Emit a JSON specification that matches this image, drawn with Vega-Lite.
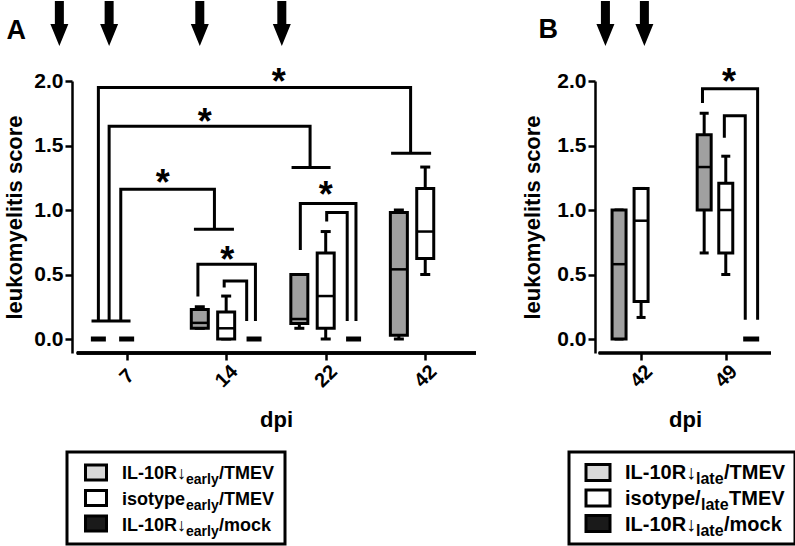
{
  "$schema": "https://vega.github.io/schema/vega-lite/v6.json",
  "padding": {"left": 3, "top": 0, "right": 0, "bottom": 0},
  "background": "white",
  "config": {
    "view": {"stroke": null},
    "font": "Liberation Sans",
    "axis": {"domainColor": "black", "tickColor": "black", "labelColor": "black", "titleColor": "black", "labelFont": "Liberation Sans", "titleFont": "Liberation Sans", "labelFontWeight": "bold", "titleFontWeight": "bold", "grid": false, "domainWidth": 2.5, "tickWidth": 2.5, "tickSize": 7},
    "text": {"font": "Liberation Sans", "fontWeight": "bold", "color": "black"}
  },
  "datasets": {
    "boxesA": [
      {"dpi": "7", "group": "IL-10R/TMEV", "pos": 0.716, "min": 0, "q1": 0, "median": 0, "q3": 0, "max": 0},
      {"dpi": "7", "group": "isotype/TMEV", "pos": 1.0, "min": 0, "q1": 0, "median": 0, "q3": 0, "max": 0},
      {"dpi": "14", "group": "IL-10R/TMEV", "pos": 1.735, "min": 0.083, "q1": 0.083, "median": 0.125, "q3": 0.229, "max": 0.25},
      {"dpi": "14", "group": "isotype/TMEV", "pos": 2.0, "min": 0, "q1": 0, "median": 0.083, "q3": 0.21, "max": 0.333},
      {"dpi": "14", "group": "IL-10R/mock", "pos": 2.28, "min": 0, "q1": 0, "median": 0, "q3": 0, "max": 0},
      {"dpi": "22", "group": "IL-10R/TMEV", "pos": 2.735, "min": 0.083, "q1": 0.12, "median": 0.155, "q3": 0.5, "max": 0.5},
      {"dpi": "22", "group": "isotype/TMEV", "pos": 3.0, "min": 0, "q1": 0.083, "median": 0.333, "q3": 0.667, "max": 0.833},
      {"dpi": "22", "group": "IL-10R/mock", "pos": 3.28, "min": 0, "q1": 0, "median": 0, "q3": 0, "max": 0},
      {"dpi": "42", "group": "IL-10R/TMEV", "pos": 3.735, "min": 0, "q1": 0.03, "median": 0.54, "q3": 0.98, "max": 1.0},
      {"dpi": "42", "group": "isotype/TMEV", "pos": 4.0, "min": 0.5, "q1": 0.625, "median": 0.833, "q3": 1.167, "max": 1.333}
    ],
    "boxesB": [
      {"dpi": "42", "group": "IL-10R/TMEV", "pos": 0.74, "min": 0, "q1": 0, "median": 0.58, "q3": 1.0, "max": 1.0},
      {"dpi": "42", "group": "isotype/TMEV", "pos": 1.0, "min": 0.167, "q1": 0.29, "median": 0.917, "q3": 1.167, "max": 1.167},
      {"dpi": "49", "group": "IL-10R/TMEV", "pos": 1.745, "min": 0.667, "q1": 1.0, "median": 1.333, "q3": 1.583, "max": 1.75},
      {"dpi": "49", "group": "isotype/TMEV", "pos": 2.0, "min": 0.5, "q1": 0.667, "median": 1.0, "q3": 1.208, "max": 1.417},
      {"dpi": "49", "group": "IL-10R/mock", "pos": 2.3, "min": 0, "q1": 0, "median": 0, "q3": 0, "max": 0}
    ],
    "bracketsA": [
      {"id": "b1", "k": 1, "pos": 0.716, "score": 0.14}, {"id": "b1", "k": 2, "pos": 0.716, "score": 1.95}, {"id": "b1", "k": 3, "pos": 3.853, "score": 1.95}, {"id": "b1", "k": 4, "pos": 3.853, "score": 1.44},
      {"id": "f1", "k": 1, "pos": 3.657, "score": 1.44}, {"id": "f1", "k": 2, "pos": 4.059, "score": 1.44},
      {"id": "b2", "k": 1, "pos": 0.824, "score": 0.14}, {"id": "b2", "k": 2, "pos": 0.824, "score": 1.65}, {"id": "b2", "k": 3, "pos": 2.843, "score": 1.65}, {"id": "b2", "k": 4, "pos": 2.843, "score": 1.33},
      {"id": "f2", "k": 1, "pos": 2.657, "score": 1.33}, {"id": "f2", "k": 2, "pos": 3.049, "score": 1.33},
      {"id": "b3", "k": 1, "pos": 0.941, "score": 0.14}, {"id": "b3", "k": 2, "pos": 0.941, "score": 1.16}, {"id": "b3", "k": 3, "pos": 1.882, "score": 1.16}, {"id": "b3", "k": 4, "pos": 1.882, "score": 0.85},
      {"id": "f3", "k": 1, "pos": 1.676, "score": 0.85}, {"id": "f3", "k": 2, "pos": 2.078, "score": 0.85},
      {"id": "f0", "k": 1, "pos": 0.647, "score": 0.14}, {"id": "f0", "k": 2, "pos": 1.039, "score": 0.14},
      {"id": "b4", "k": 1, "pos": 1.716, "score": 0.33}, {"id": "b4", "k": 2, "pos": 1.716, "score": 0.58}, {"id": "b4", "k": 3, "pos": 2.294, "score": 0.58}, {"id": "b4", "k": 4, "pos": 2.294, "score": 0.14},
      {"id": "b5", "k": 1, "pos": 1.98, "score": 0.4}, {"id": "b5", "k": 2, "pos": 1.98, "score": 0.45}, {"id": "b5", "k": 3, "pos": 2.206, "score": 0.45}, {"id": "b5", "k": 4, "pos": 2.206, "score": 0.14},
      {"id": "b6", "k": 1, "pos": 2.745, "score": 0.69}, {"id": "b6", "k": 2, "pos": 2.745, "score": 1.05}, {"id": "b6", "k": 3, "pos": 3.304, "score": 1.05}, {"id": "b6", "k": 4, "pos": 3.304, "score": 0.14},
      {"id": "b7", "k": 1, "pos": 3.01, "score": 0.91}, {"id": "b7", "k": 2, "pos": 3.01, "score": 0.98}, {"id": "b7", "k": 3, "pos": 3.216, "score": 0.98}, {"id": "b7", "k": 4, "pos": 3.216, "score": 0.14}
    ],
    "bracketsB": [
      {"id": "o", "k": 1, "pos": 1.725, "score": 1.83}, {"id": "o", "k": 2, "pos": 1.725, "score": 1.94}, {"id": "o", "k": 3, "pos": 2.376, "score": 1.94}, {"id": "o", "k": 4, "pos": 2.376, "score": 0.15},
      {"id": "i", "k": 1, "pos": 1.983, "score": 1.56}, {"id": "i", "k": 2, "pos": 1.983, "score": 1.73}, {"id": "i", "k": 3, "pos": 2.23, "score": 1.73}, {"id": "i", "k": 4, "pos": 2.23, "score": 0.15}
    ],
    "starsA": [
      {"pos": 2.529, "score": 2.062}, {"pos": 1.784, "score": 1.752}, {"pos": 1.363, "score": 1.279}, {"pos": 2.01, "score": 0.682}, {"pos": 3.0, "score": 1.186}
    ],
    "starsB": [{"pos": 2.039, "score": 2.062}],
    "arrowsA": [{"pos": 0.324, "score": 2.446}, {"pos": 0.824, "score": 2.446}, {"pos": 1.735, "score": 2.446}, {"pos": 2.559, "score": 2.446}],
    "arrowsB": [{"pos": 0.579, "score": 2.446}, {"pos": 1.039, "score": 2.446}],
    "letterA": [{"pos": -0.108, "score": 2.326, "label": "A"}],
    "letterB": [{"pos": -0.096, "score": 2.333, "label": "B"}],
    "legendA": [
      {"row": 1, "key": "IL-10R/TMEV", "prefix": "IL-10R↓", "sub": "early", "suffix": "/TMEV"},
      {"row": 2, "key": "isotype/TMEV", "prefix": "isotype", "sub": "early", "suffix": "/TMEV"},
      {"row": 3, "key": "IL-10R/mock", "prefix": "IL-10R↓", "sub": "early", "suffix": "/mock"}
    ],
    "legendB": [
      {"row": 1, "key": "IL-10R/TMEV", "prefix": "IL-10R↓", "sub": "late", "suffix": "/TMEV"},
      {"row": 2, "key": "isotype/TMEV", "prefix": "isotype/", "sub": "late", "suffix": "TMEV"},
      {"row": 3, "key": "IL-10R/mock", "prefix": "IL-10R↓", "sub": "late", "suffix": "/mock"}
    ]
  },
  "columns": 2,
  "spacing": {"row": 99, "column": 88},
  "bounds": "flush",
  "align": "each",
  "resolve": {"scale": {"x": "independent", "y": "independent", "fill": "independent"}},
  "concat": [
    {
      "width": 414,
      "height": 272,
      "layer": [
        {
          "data": {"name": "boxesA"},
          "transform": [{"filter": "datum.max > datum.min"}],
          "mark": {"type": "rule", "strokeWidth": 3, "color": "black"},
          "encoding": {
            "x": {"field": "pos", "type": "quantitative", "scale": {"domain": [0.451, 4.51], "nice": false, "zero": false},
              "axis": {"values": [1, 2, 3, 4], "labelExpr": "datum.value == 1 ? '7' : datum.value == 2 ? '14' : datum.value == 3 ? '22' : '42'", "labelAngle": -45, "labelAlign": "center", "labelBaseline": "middle", "labelPadding": 16, "labelFontSize": 20, "labelFlush": false, "domain": false, "title": "dpi", "titleFontSize": 22, "titlePadding": 19, "titleX": 209}},
            "y": {"field": "min", "type": "quantitative", "scale": {"domain": [-0.1085, 2], "nice": false, "zero": false},
              "axis": {"values": [0, 0.5, 1, 1.5, 2], "format": ".1f", "offset": -5, "labelFontSize": 21, "labelPadding": 2, "title": "leukomyelitis score", "titleFontSize": 22, "titlePadding": 7}},
            "y2": {"field": "max"}
          }
        },
        {
          "data": {"name": "boxesA"},
          "mark": {"type": "rule", "strokeWidth": 2.5, "color": "black"},
          "encoding": {"x": {"datum": 0.5}, "x2": {"datum": 4.51}, "y": {"datum": -0.1085}}
        },
        {
          "data": {"name": "boxesA"},
          "transform": [{"filter": "datum.max > datum.min"}],
          "mark": {"type": "tick", "orient": "horizontal", "size": 10, "thickness": 3, "color": "black", "opacity": 1},
          "encoding": {"x": {"field": "pos", "type": "quantitative"}, "y": {"field": "min", "type": "quantitative"}}
        },
        {
          "data": {"name": "boxesA"},
          "transform": [{"filter": "datum.max > datum.min"}],
          "mark": {"type": "tick", "orient": "horizontal", "size": 10, "thickness": 3, "color": "black", "opacity": 1},
          "encoding": {"x": {"field": "pos", "type": "quantitative"}, "y": {"field": "max", "type": "quantitative"}}
        },
        {
          "data": {"name": "boxesA"},
          "transform": [{"filter": "datum.max > 0"}],
          "mark": {"type": "bar", "orient": "vertical", "width": 17, "stroke": "black", "strokeWidth": 3, "opacity": 1},
          "encoding": {
            "x": {"field": "pos", "type": "quantitative"},
            "y": {"field": "q1", "type": "quantitative"},
            "y2": {"field": "q3"},
            "fill": {"field": "group", "type": "nominal", "scale": {"domain": ["IL-10R/TMEV", "isotype/TMEV", "IL-10R/mock"], "range": ["#a0a0a0", "#ffffff", "#111111"]}, "legend": null}
          }
        },
        {
          "data": {"name": "boxesA"},
          "transform": [{"filter": "datum.max > 0"}],
          "mark": {"type": "tick", "orient": "horizontal", "size": 17, "thickness": 2.5, "color": "black", "opacity": 1},
          "encoding": {"x": {"field": "pos", "type": "quantitative"}, "y": {"field": "median", "type": "quantitative"}}
        },
        {
          "data": {"name": "boxesA"},
          "transform": [{"filter": "datum.max == 0"}],
          "mark": {"type": "tick", "orient": "horizontal", "size": 15, "thickness": 5, "color": "black", "opacity": 1},
          "encoding": {"x": {"field": "pos", "type": "quantitative"}, "y": {"field": "median", "type": "quantitative"}}
        },
        {
          "data": {"name": "bracketsA"},
          "mark": {"type": "line", "strokeWidth": 3, "color": "black", "strokeJoin": "miter", "strokeCap": "butt"},
          "encoding": {"x": {"field": "pos", "type": "quantitative"}, "y": {"field": "score", "type": "quantitative"}, "detail": {"field": "id"}, "order": {"field": "k"}}
        },
        {
          "data": {"name": "starsA"},
          "mark": {"type": "text", "text": "*", "fontSize": 36, "fontWeight": "bold", "baseline": "alphabetic", "align": "center", "dy": 21},
          "encoding": {"x": {"field": "pos", "type": "quantitative"}, "y": {"field": "score", "type": "quantitative"}}
        },
        {
          "data": {"name": "arrowsA"},
          "mark": {"type": "point", "shape": "M-0.2,-1L0.2,-1L0.2,0.02L0.4,0.02L0,1L-0.4,0.02L-0.2,0.02Z", "size": 2025, "filled": true, "color": "black", "opacity": 1},
          "encoding": {"x": {"field": "pos", "type": "quantitative"}, "y": {"field": "score", "type": "quantitative"}}
        },
        {
          "data": {"name": "letterA"},
          "mark": {"type": "text", "fontSize": 27, "fontWeight": "bold", "baseline": "alphabetic", "align": "center"},
          "encoding": {"x": {"field": "pos", "type": "quantitative"}, "y": {"field": "score", "type": "quantitative"}, "text": {"field": "label"}}
        }
      ]
    },
    {
      "width": 207,
      "height": 272,
      "layer": [
        {
          "data": {"name": "boxesB"},
          "transform": [{"filter": "datum.max > datum.min"}],
          "mark": {"type": "rule", "strokeWidth": 3, "color": "black"},
          "encoding": {
            "x": {"field": "pos", "type": "quantitative", "scale": {"domain": [0.208, 2.534], "nice": false, "zero": false},
              "axis": {"values": [1, 2], "labelExpr": "datum.value == 1 ? '42' : '49'", "labelAngle": -45, "labelAlign": "center", "labelBaseline": "middle", "labelPadding": 16, "labelFontSize": 20, "labelFlush": false, "domain": false, "title": "dpi", "titleFontSize": 22, "titlePadding": 19, "titleX": 116}},
            "y": {"field": "min", "type": "quantitative", "scale": {"domain": [-0.1085, 2], "nice": false, "zero": false},
              "axis": {"values": [0, 0.5, 1, 1.5, 2], "format": ".1f", "offset": -26, "labelFontSize": 21, "labelPadding": 2, "title": "leukomyelitis score", "titleFontSize": 22, "titlePadding": 12}},
            "y2": {"field": "max"}
          }
        },
        {
          "data": {"name": "boxesB"},
          "mark": {"type": "rule", "strokeWidth": 2.5, "color": "black"},
          "encoding": {"x": {"datum": 0.5}, "x2": {"datum": 2.534}, "y": {"datum": -0.1085}}
        },
        {
          "data": {"name": "boxesB"},
          "transform": [{"filter": "datum.max > datum.min"}],
          "mark": {"type": "tick", "orient": "horizontal", "size": 9, "thickness": 3, "color": "black", "opacity": 1},
          "encoding": {"x": {"field": "pos", "type": "quantitative"}, "y": {"field": "min", "type": "quantitative"}}
        },
        {
          "data": {"name": "boxesB"},
          "transform": [{"filter": "datum.max > datum.min"}],
          "mark": {"type": "tick", "orient": "horizontal", "size": 9, "thickness": 3, "color": "black", "opacity": 1},
          "encoding": {"x": {"field": "pos", "type": "quantitative"}, "y": {"field": "max", "type": "quantitative"}}
        },
        {
          "data": {"name": "boxesB"},
          "transform": [{"filter": "datum.max > 0"}],
          "mark": {"type": "bar", "orient": "vertical", "width": 14, "stroke": "black", "strokeWidth": 3, "opacity": 1},
          "encoding": {
            "x": {"field": "pos", "type": "quantitative"},
            "y": {"field": "q1", "type": "quantitative"},
            "y2": {"field": "q3"},
            "fill": {"field": "group", "type": "nominal", "scale": {"domain": ["IL-10R/TMEV", "isotype/TMEV", "IL-10R/mock"], "range": ["#a0a0a0", "#ffffff", "#111111"]}, "legend": null}
          }
        },
        {
          "data": {"name": "boxesB"},
          "transform": [{"filter": "datum.max > 0"}],
          "mark": {"type": "tick", "orient": "horizontal", "size": 14, "thickness": 2.5, "color": "black", "opacity": 1},
          "encoding": {"x": {"field": "pos", "type": "quantitative"}, "y": {"field": "median", "type": "quantitative"}}
        },
        {
          "data": {"name": "boxesB"},
          "transform": [{"filter": "datum.max == 0"}],
          "mark": {"type": "tick", "orient": "horizontal", "size": 16, "thickness": 5, "color": "black", "opacity": 1},
          "encoding": {"x": {"field": "pos", "type": "quantitative"}, "y": {"field": "median", "type": "quantitative"}}
        },
        {
          "data": {"name": "bracketsB"},
          "mark": {"type": "line", "strokeWidth": 3, "color": "black", "strokeJoin": "miter", "strokeCap": "butt"},
          "encoding": {"x": {"field": "pos", "type": "quantitative"}, "y": {"field": "score", "type": "quantitative"}, "detail": {"field": "id"}, "order": {"field": "k"}}
        },
        {
          "data": {"name": "starsB"},
          "mark": {"type": "text", "text": "*", "fontSize": 36, "fontWeight": "bold", "baseline": "alphabetic", "align": "center", "dy": 21},
          "encoding": {"x": {"field": "pos", "type": "quantitative"}, "y": {"field": "score", "type": "quantitative"}}
        },
        {
          "data": {"name": "arrowsB"},
          "mark": {"type": "point", "shape": "M-0.2,-1L0.2,-1L0.2,0.02L0.4,0.02L0,1L-0.4,0.02L-0.2,0.02Z", "size": 2025, "filled": true, "color": "black", "opacity": 1},
          "encoding": {"x": {"field": "pos", "type": "quantitative"}, "y": {"field": "score", "type": "quantitative"}}
        },
        {
          "data": {"name": "letterB"},
          "mark": {"type": "text", "fontSize": 27, "fontWeight": "bold", "baseline": "alphabetic", "align": "center"},
          "encoding": {"x": {"field": "pos", "type": "quantitative"}, "y": {"field": "score", "type": "quantitative"}, "text": {"field": "label"}}
        }
      ]
    },
    {
      "width": 218,
      "height": 92,
      "view": {"stroke": "black", "strokeWidth": 3},
      "data": {"name": "legendA"},
      "encoding": {"y": {"field": "row", "type": "ordinal", "scale": {"type": "point", "padding": 0.8}, "axis": null}},
      "layer": [
        {"mark": {"type": "point", "shape": "M-1,-0.714L1,-0.714L1,0.714L-1,0.714Z", "size": 441, "filled": true, "stroke": "black", "strokeWidth": 3, "opacity": 1, "xOffset": -80},
         "encoding": {"fill": {"field": "key", "type": "nominal", "scale": {"domain": ["IL-10R/TMEV", "isotype/TMEV", "IL-10R/mock"], "range": ["#d9d9d9", "#ffffff", "#1a1a1a"]}, "legend": null}}},
        {"mark": {"type": "text", "fontSize": 18, "fontWeight": "bold", "align": "left", "baseline": "alphabetic", "dx": -54, "dy": 7}, "encoding": {"text": {"field": "prefix"}}},
        {"mark": {"type": "text", "fontSize": 14, "fontWeight": "bold", "align": "left", "baseline": "alphabetic", "dx": 10, "dy": 12}, "encoding": {"text": {"field": "sub"}}},
        {"mark": {"type": "text", "fontSize": 18, "fontWeight": "bold", "align": "left", "baseline": "alphabetic", "dx": 43, "dy": 7}, "encoding": {"text": {"field": "suffix"}}}
      ]
    },
    {
      "width": 226,
      "height": 92,
      "view": {"stroke": "black", "strokeWidth": 3},
      "data": {"name": "legendB"},
      "encoding": {"y": {"field": "row", "type": "ordinal", "scale": {"type": "point", "padding": 0.8}, "axis": null}},
      "layer": [
        {"mark": {"type": "point", "shape": "M-1,-0.667L1,-0.667L1,0.667L-1,0.667Z", "size": 576, "filled": true, "stroke": "black", "strokeWidth": 3, "opacity": 1, "xOffset": -84},
         "encoding": {"fill": {"field": "key", "type": "nominal", "scale": {"domain": ["IL-10R/TMEV", "isotype/TMEV", "IL-10R/mock"], "range": ["#d9d9d9", "#ffffff", "#1a1a1a"]}, "legend": null}}},
        {"mark": {"type": "text", "fontSize": 20, "fontWeight": "bold", "align": "left", "baseline": "alphabetic", "dx": -57, "dy": 7}, "encoding": {"text": {"field": "prefix"}}},
        {"transform": [{"filter": "datum.row != 2"}], "mark": {"type": "text", "fontSize": 16, "fontWeight": "bold", "align": "left", "baseline": "alphabetic", "dx": 14, "dy": 12}, "encoding": {"text": {"field": "sub"}}},
        {"transform": [{"filter": "datum.row == 2"}], "mark": {"type": "text", "fontSize": 16, "fontWeight": "bold", "align": "left", "baseline": "alphabetic", "dx": 19, "dy": 12}, "encoding": {"text": {"field": "sub"}}},
        {"transform": [{"filter": "datum.row != 2"}], "mark": {"type": "text", "fontSize": 20, "fontWeight": "bold", "align": "left", "baseline": "alphabetic", "dx": 42, "dy": 7}, "encoding": {"text": {"field": "suffix"}}},
        {"transform": [{"filter": "datum.row == 2"}], "mark": {"type": "text", "fontSize": 20, "fontWeight": "bold", "align": "left", "baseline": "alphabetic", "dx": 47, "dy": 7}, "encoding": {"text": {"field": "suffix"}}}
      ]
    }
  ]
}
